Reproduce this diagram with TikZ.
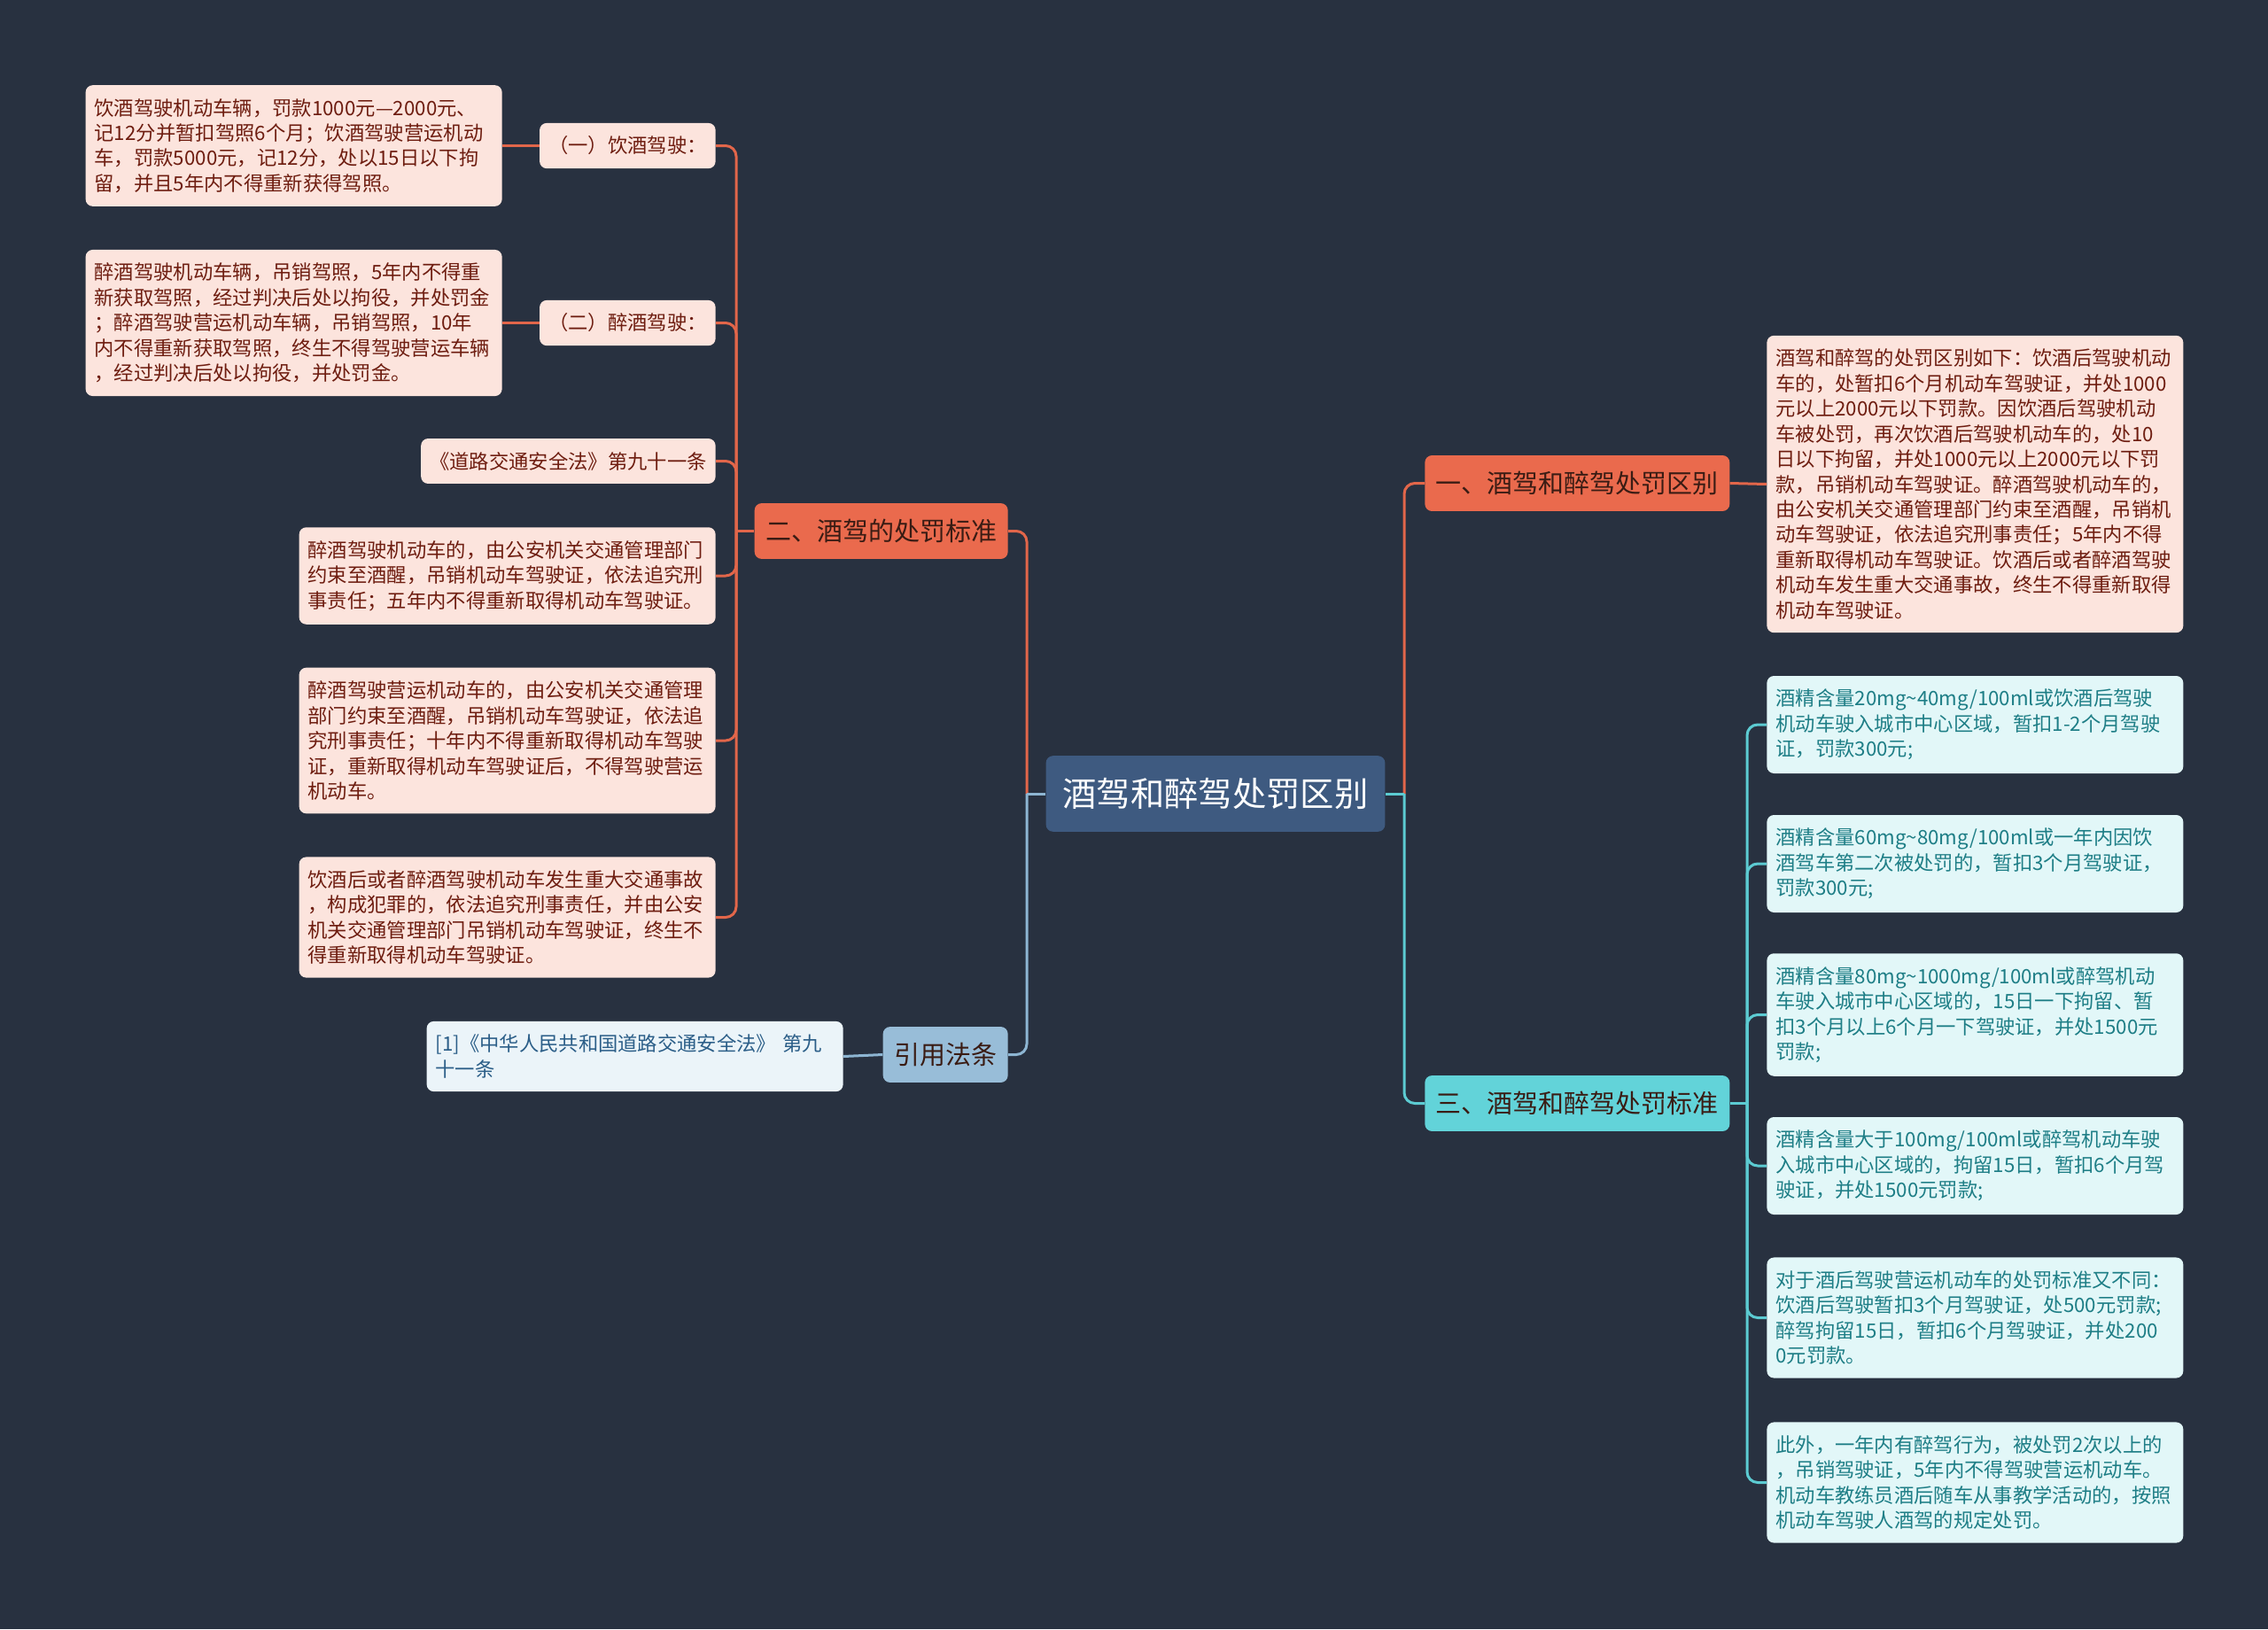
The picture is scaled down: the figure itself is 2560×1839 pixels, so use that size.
\documentclass[tikz,border=0pt]{standalone}
\usepackage{fontspec}
\setmainfont{Noto Sans CJK SC}
\definecolor{bgcol}{HTML}{283140}
\definecolor{rootfill}{HTML}{3E5A80}
\definecolor{redfill}{HTML}{EA6A4D}
\definecolor{redline}{HTML}{E2664A}
\definecolor{pinkfill}{HTML}{FCE4DD}
\definecolor{pinktext}{HTML}{6E1D10}
\definecolor{cyanfill}{HTML}{62D3D9}
\definecolor{cyanline}{HTML}{5CCBD2}
\definecolor{icefill}{HTML}{E2F7F8}
\definecolor{icetext}{HTML}{1E7E86}
\definecolor{bluefill}{HTML}{98BDD8}
\definecolor{blueline}{HTML}{8DB5D2}
\definecolor{skyfill}{HTML}{EBF4F9}
\definecolor{skytext}{HTML}{2B5E88}
\definecolor{darktext}{HTML}{3A1C14}
\newcommand{\rootsize}{\fontsize{21.8pt}{26pt}\selectfont}
\newcommand{\branchsize}{\fontsize{16.5pt}{20pt}\selectfont}
\newcommand{\leafsize}{\fontsize{12.7pt}{16.2pt}\selectfont}

\begin{document}
\begin{tikzpicture}[x=0.2mm,y=-0.2mm]
            \tikzstyle{card}=[rectangle, rounded corners=1.6mm, inner xsep=2mm, inner ysep=3mm]
            \tikzstyle{rootcard}=[card, fill=rootfill, text=white, font=\rootsize, inner xsep=3.8mm, inner ysep=5mm]
            \tikzstyle{branch}=[card, font=\branchsize, text=darktext, inner xsep=2.5mm, inner ysep=3.6mm]
            \tikzstyle{redbranch}=[branch, fill=redfill]
            \tikzstyle{cyanbranch}=[branch, fill=cyanfill]
            \tikzstyle{bluebranch}=[branch, fill=bluefill]
            \tikzstyle{redtag}=[card, fill=pinkfill, text=pinktext, font=\leafsize]
            \tikzstyle{redleaf}=[redtag, text width=90mm, align=left]
            \tikzstyle{iceleaf}=[card, fill=icefill, text=icetext, font=\leafsize, text width=90mm, align=left]
            \tikzstyle{skyleaf}=[card, fill=skyfill, text=skytext, font=\leafsize, text width=90mm, align=left]
            \tikzstyle{link}=[line width=0.6mm, rounded corners=2.4mm]
            \tikzstyle{redlink}=[link, draw=redline]
            \tikzstyle{cyanlink}=[link, draw=cyanline]
            \tikzstyle{bluelink}=[link, draw=blueline]
            \tikzstyle{elbow}=[to path={|- (\tikztotarget)}]
            \useasboundingbox (0,0) rectangle (2560,1839);
            \fill[bgcol] (0,0) rectangle (2560,1839);
            % centre
            \node[rootcard] (root) at (1372,896){酒驾和醉驾处罚区别};
            \coordinate (jl) at (1159,896);
            \coordinate (jr) at (1585,896);
            % right side
            \node[redbranch, anchor=west] (b1) at (1608,545.5){一、酒驾和醉驾处罚区别};
            \node[cyanbranch, anchor=west] (b3) at (1608,1245.5){三、酒驾和醉驾处罚标准};
            \coordinate (j3) at (1972,1245.5);
            \node[redleaf, anchor=west] (big) at (1994,546.5){酒驾和醉驾的处罚区别如下：饮酒后驾驶机动\\车的，处暂扣6个月机动车驾驶证，并处1000\\元以上2000元以下罚款。因饮酒后驾驶机动\\车被处罚，再次饮酒后驾驶机动车的，处10\\日以下拘留，并处1000元以上2000元以下罚\\款，吊销机动车驾驶证。醉酒驾驶机动车的，\\由公安机关交通管理部门约束至酒醒，吊销机\\动车驾驶证，依法追究刑事责任；5年内不得\\重新取得机动车驾驶证。饮酒后或者醉酒驾驶\\机动车发生重大交通事故，终生不得重新取得\\机动车驾驶证。};
            \node[iceleaf, anchor=west] (c1) at (1994,818){酒精含量20mg\textasciitilde40mg/100ml或饮酒后驾驶\\机动车驶入城市中心区域，暂扣1-2个月驾驶\\证，罚款300元;};
            \node[iceleaf, anchor=west] (c2) at (1994,975){酒精含量60mg\textasciitilde80mg/100ml或一年内因饮\\酒驾车第二次被处罚的，暂扣3个月驾驶证，\\罚款300元;};
            \node[iceleaf, anchor=west] (c3) at (1994,1145.5){酒精含量80mg\textasciitilde1000mg/100ml或醉驾机动\\车驶入城市中心区域的，15日一下拘留、暂\\扣3个月以上6个月一下驾驶证，并处1500元\\罚款;};
            \node[iceleaf, anchor=west] (c4) at (1994,1316){酒精含量大于100mg/100ml或醉驾机动车驶\\入城市中心区域的，拘留15日，暂扣6个月驾\\驶证，并处1500元罚款;};
            \node[iceleaf, anchor=west] (c5) at (1994,1487.5){对于酒后驾驶营运机动车的处罚标准又不同：\\饮酒后驾驶暂扣3个月驾驶证，处500元罚款;\\醉驾拘留15日，暂扣6个月驾驶证，并处200\\0元罚款。};
            \node[iceleaf, anchor=west] (c6) at (1994,1673.5){此外，一年内有醉驾行为，被处罚2次以上的\\，吊销驾驶证，5年内不得驾驶营运机动车。\\机动车教练员酒后随车从事教学活动的，按照\\机动车驾驶人酒驾的规定处罚。};
            % left side
            \node[redbranch, anchor=east] (b2) at (1138,599.5){二、酒驾的处罚标准};
            \node[bluebranch, anchor=east] (b4) at (1138,1190.5){引用法条};
            \coordinate (j2) at (831,599.5);
            \node[redtag, anchor=east] (n1) at (808,164.5){（一）饮酒驾驶：};
            \node[redtag, anchor=east] (n2) at (808,364.5){（二）醉酒驾驶：};
            \node[redtag, anchor=east] (n3) at (808,520.5){《道路交通安全法》第九十一条};
            \node[redleaf, anchor=east] (n4) at (808,650){醉酒驾驶机动车的，由公安机关交通管理部门\\约束至酒醒，吊销机动车驾驶证，依法追究刑\\事责任；五年内不得重新取得机动车驾驶证。};
            \node[redleaf, anchor=east] (n5) at (808,836){醉酒驾驶营运机动车的，由公安机关交通管理\\部门约束至酒醒，吊销机动车驾驶证，依法追\\究刑事责任；十年内不得重新取得机动车驾驶\\证，重新取得机动车驾驶证后，不得驾驶营运\\机动车。};
            \node[redleaf, anchor=east] (n6) at (808,1035.5){饮酒后或者醉酒驾驶机动车发生重大交通事故\\，构成犯罪的，依法追究刑事责任，并由公安\\机关交通管理部门吊销机动车驾驶证，终生不\\得重新取得机动车驾驶证。};
            \node[redleaf, anchor=east] (l1) at (567,164.5){饮酒驾驶机动车辆，罚款1000元—2000元、\\记12分并暂扣驾照6个月；饮酒驾驶营运机动\\车，罚款5000元，记12分，处以15日以下拘\\留，并且5年内不得重新获得驾照。};
            \node[redleaf, anchor=east] (l2) at (567,364.5){醉酒驾驶机动车辆，吊销驾照，5年内不得重\\新获取驾照，经过判决后处以拘役，并处罚金\\；醉酒驾驶营运机动车辆，吊销驾照，10年\\内不得重新获取驾照，终生不得驾驶营运车辆\\，经过判决后处以拘役，并处罚金。};
            \node[skyleaf, anchor=east] (ref) at (952,1192.5){[1]《中华人民共和国道路交通安全法》 第九\\十一条};
            % connectors
            \path (jr) edge [redlink, elbow] (b1.west);
            \path (jr) edge [cyanlink, elbow] (b3.west);
            \draw[cyanlink] (root.east) -- (jr);
            \path (jl) edge [redlink, elbow] (b2.east);
            \path (jl) edge [bluelink, elbow] (b4.east);
            \draw[bluelink] (root.west) -- (jl);
            \path (b1.east) edge [redlink] (big.west);
            \draw[cyanlink] (b3.east) -- (j3);
            \foreach \n in {c1,c2,c3,c4,c5,c6}
                \path (j3) edge [cyanlink, elbow] (\n.west);
            \draw[redlink] (b2.west) -- (j2);
            \foreach \n in {n1,n2,n3,n4,n5,n6}
                \path (j2) edge [redlink, elbow] (\n.east);
            \path (n1.west) edge [redlink] (l1.east);
            \path (n2.west) edge [redlink] (l2.east);
            \path (b4.west) edge [bluelink] (ref.east);
        \end{tikzpicture}
\end{document}
